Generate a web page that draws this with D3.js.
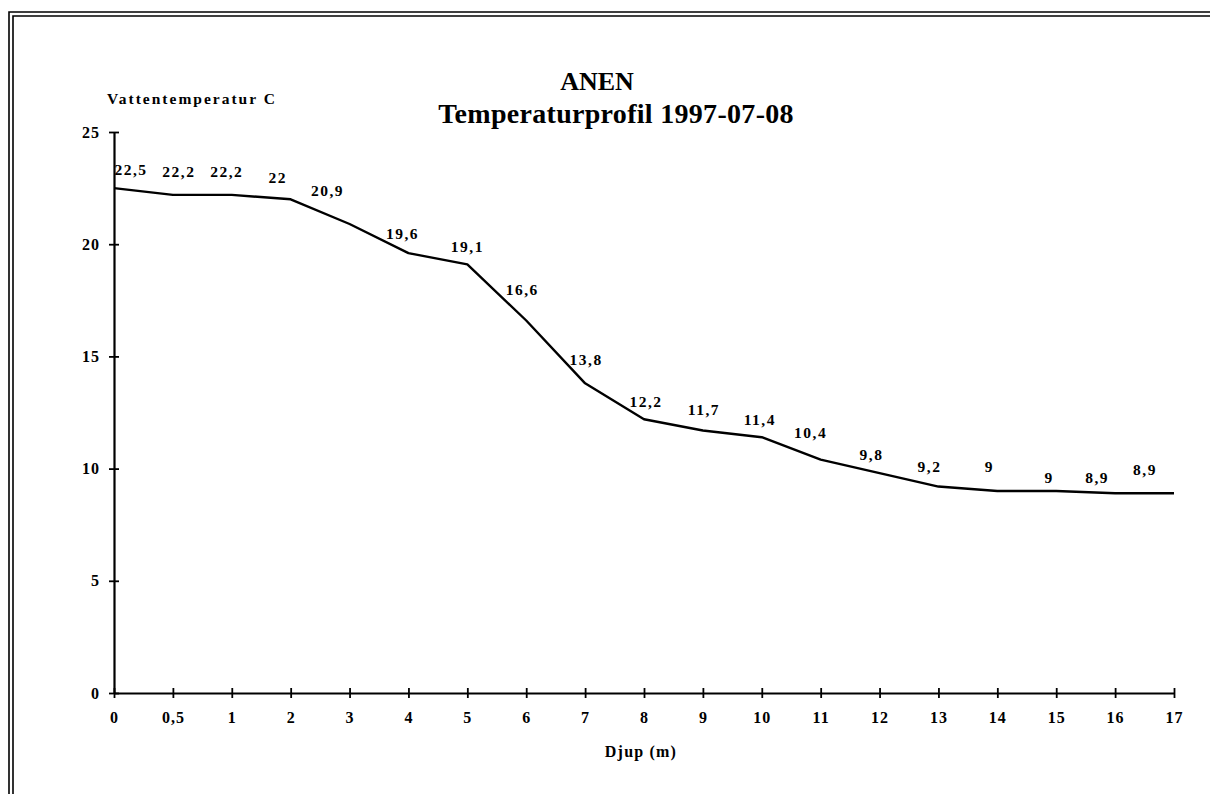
<!DOCTYPE html>
<html>
<head>
<meta charset="utf-8">
<script src="https://cdn.jsdelivr.net/npm/d3@7"></script>
<style>
  html, body { margin: 0; padding: 0; background: #fff; }
  svg { display: block; }
  text { font-family: "Liberation Serif", "Times New Roman", serif; font-weight: bold; fill: #000; }
</style>
</head>
<body>
<script>
// Depth categories (m) along the profile
const depths = ["0", "0,5", "1", "2", "3", "4", "5", "6", "7", "8", "9", "10", "11", "12", "13", "14", "15", "16", "17"];
// Water temperature (°C) measured at each depth
const temperatures = [22.5, 22.2, 22.2, 22, 20.9, 19.6, 19.1, 16.6, 13.8, 12.2, 11.7, 11.4, 10.4, 9.8, 9.2, 9, 9, 8.9, 8.9];
// Y axis tick values
const yTicks = [0, 5, 10, 15, 20, 25];

// Per-label nudges [dx, dy] relative to each point, keeping labels clear of the line
const labelNudge = [
  [17, -13], [6, -18], [-5, -18], [-13, -16], [-22, -28], [-6, -14], [0, -12],
  [-4, -25], [1, -18], [2, -12], [1, -15], [-2, -12], [-10, -22], [-8, -13],
  [-9, -15], [-8, -19], [-7, -8], [-18, -10], [-29, -18]
];

const W = 1210, H = 794;
const svg = d3.select("body").append("svg").attr("width", W).attr("height", H);

// Double frame around the chart (top and left edges)
const frame = svg.append("g").attr("stroke", "#000").attr("fill", "none");
frame.append("path").attr("d", `M9,${H} V12 H${W}`).attr("stroke-width", 1.6);
frame.append("path").attr("d", `M13,${H} V16 H${W}`).attr("stroke-width", 1.6);

const x = d3.scalePoint().domain(depths).range([114, 1174]);
const y = d3.scaleLinear().domain([0, 25]).range([693, 132]);

const fmt = v => String(v).replace(".", ",");

// Y axis with ticks crossing the axis line
const yAxis = svg.append("g")
  .attr("transform", `translate(${x(depths[0])},0)`)
  .call(d3.axisLeft(y).tickValues(yTicks).tickSizeInner(5).tickSizeOuter(0).tickPadding(9).tickFormat(d => d));
yAxis.select(".domain").attr("stroke-width", 2.2);
yAxis.selectAll(".tick line").attr("x1", 5).attr("stroke-width", 1.8);
yAxis.selectAll(".tick text").attr("font-size", 16).attr("font-family", "Liberation Serif").attr("font-weight", "bold").attr("letter-spacing", 1);

// X axis with ticks crossing the axis line
const xAxis = svg.append("g")
  .attr("transform", `translate(0,${y(0)})`)
  .call(d3.axisBottom(x).tickSizeInner(5).tickSizeOuter(0).tickPadding(14));
xAxis.select(".domain").attr("stroke-width", 2.2);
xAxis.selectAll(".tick line").attr("y1", -5).attr("stroke-width", 1.8);
xAxis.selectAll(".tick text").attr("font-size", 16).attr("font-family", "Liberation Serif").attr("font-weight", "bold").attr("letter-spacing", 1);

// Temperature profile line
const line = d3.line()
  .x((d, i) => x(depths[i]))
  .y(d => y(d));
svg.append("path")
  .datum(temperatures)
  .attr("d", line)
  .attr("fill", "none")
  .attr("stroke", "#000")
  .attr("stroke-width", 2.4)
  .attr("stroke-linejoin", "round");

// Value labels
svg.append("g").selectAll("text")
  .data(temperatures)
  .join("text")
  .attr("x", (d, i) => x(depths[i]) + labelNudge[i][0])
  .attr("y", (d, i) => y(d) + labelNudge[i][1])
  .attr("text-anchor", "middle")
  .attr("font-size", 15.5)
  .attr("letter-spacing", 1.5)
  .text(d => fmt(d));

// Titles
svg.append("text").attr("x", 597).attr("y", 90).attr("text-anchor", "middle")
  .attr("font-size", 26).text("ANEN");
svg.append("text").attr("x", 616).attr("y", 123).attr("text-anchor", "middle")
  .attr("font-size", 28).attr("letter-spacing", 0.3).text("Temperaturprofil 1997-07-08");

// Axis titles
svg.append("text").attr("x", 107).attr("y", 104).attr("font-size", 15.5)
  .attr("letter-spacing", 2).text("Vattentemperatur C");
svg.append("text").attr("x", 641).attr("y", 757).attr("text-anchor", "middle")
  .attr("font-size", 16).attr("letter-spacing", 1.2).text("Djup (m)");
</script>
</body>
</html>
